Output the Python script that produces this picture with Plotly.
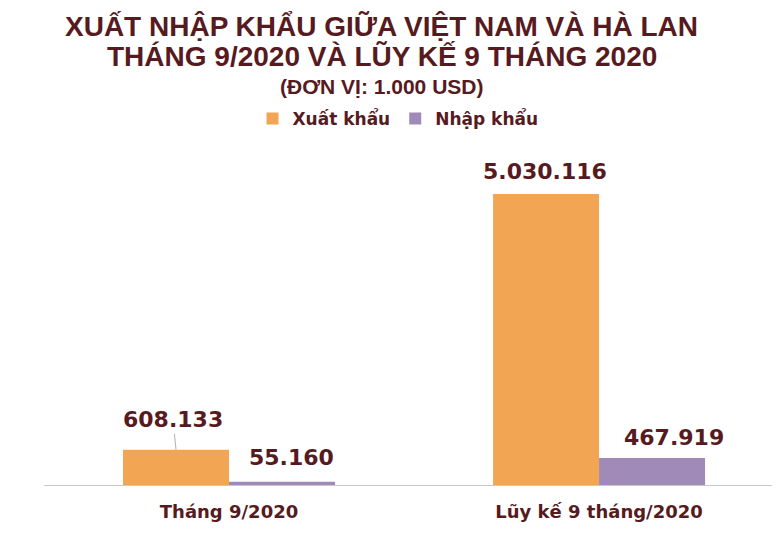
import plotly.graph_objects as go

categories = ["Tháng 9/2020", "Lũy kế 9 tháng/2020"]
series_names = ["Xuất khẩu", "Nhập khẩu"]
export_values = [608133, 5030116]
import_values = [55160, 467919]
label_texts = [["608.133", "5.030.116"], ["55.160", "467.919"]]

maroon = "#561a20"
colors = ["#f2a653", "#a08ab8"]

fig = go.Figure()
for name, vals, col in zip(series_names, [export_values, import_values], colors):
    fig.add_trace(go.Bar(
        x=categories, y=vals, name=name, marker_color=col,
        marker_line_width=0, hoverinfo="skip",
    ))

# data labels (shift in px relative to the top of each bar)
shifts = [[(-56, 28), (-54, 23)], [(62, 24), (75, 20)]]
label_font = dict(family="DejaVu Sans", size=22, color=maroon)
for s, vals in enumerate([export_values, import_values]):
    for c, cat in enumerate(categories):
        dx, dy = shifts[s][c]
        if s == 0 and c == 0:
            # label with leader line
            fig.add_annotation(
                x=cat, y=vals[c], xref="x", yref="y", xshift=-53,
                text="<b>%s</b>" % label_texts[s][c], font=label_font,
                showarrow=True, ax=-3, ay=-30, arrowhead=0, arrowwidth=1,
                arrowcolor="#b0b0b0", standoff=0,
            )
        else:
            fig.add_annotation(
                x=cat, y=vals[c], xref="x", yref="y", xshift=dx, yshift=dy,
                text="<b>%s</b>" % label_texts[s][c], font=label_font,
                showarrow=False,
            )

title_lines = [
    ("XUẤT NHẬP KHẨU GIỮA VIỆT NAM VÀ HÀ LAN", 28, 1.330),
    ("THÁNG 9/2020 VÀ LŨY KẾ 9 THÁNG 2020", 28, 1.2406),
    ("(ĐƠN VỊ: 1.000 USD)", 21, 1.1565),
]
for txt, size, ypos in title_lines:
    fig.add_annotation(
        x=0.4592, y=ypos, xref="paper", yref="paper", showarrow=False,
        text="<b>%s</b>" % txt, xanchor="center", yanchor="middle",
        font=dict(family="Liberation Sans", size=size, color=maroon),
    )

fig.update_layout(
    width=772, height=529,
    margin=dict(l=36, r=0, t=132, b=52),
    paper_bgcolor="white", plot_bgcolor="white",
    barmode="group", bargap=0.427, bargroupgap=0,
    showlegend=True,
    legend=dict(
        orientation="h", x=0.481, xanchor="center", y=1.061, yanchor="middle",
        font=dict(family="DejaVu Sans", size=17, color=maroon, weight="bold"),
        itemclick=False, itemdoubleclick=False,
    ),
    xaxis=dict(
        range=[-0.5, 1.489], showgrid=False, showline=True, linecolor="#c8c8c8",
        linewidth=1, ticks="", fixedrange=True, ticklabelstandoff=10,
        tickfont=dict(family="DejaVu Sans", size=18, color=maroon, weight="bold"),
    ),
    yaxis=dict(
        range=[0, 5030116 * 345 / 291], showgrid=False, showticklabels=False,
        zeroline=False, showline=False, fixedrange=True,
    ),
)

fig.write_html("out.html")
